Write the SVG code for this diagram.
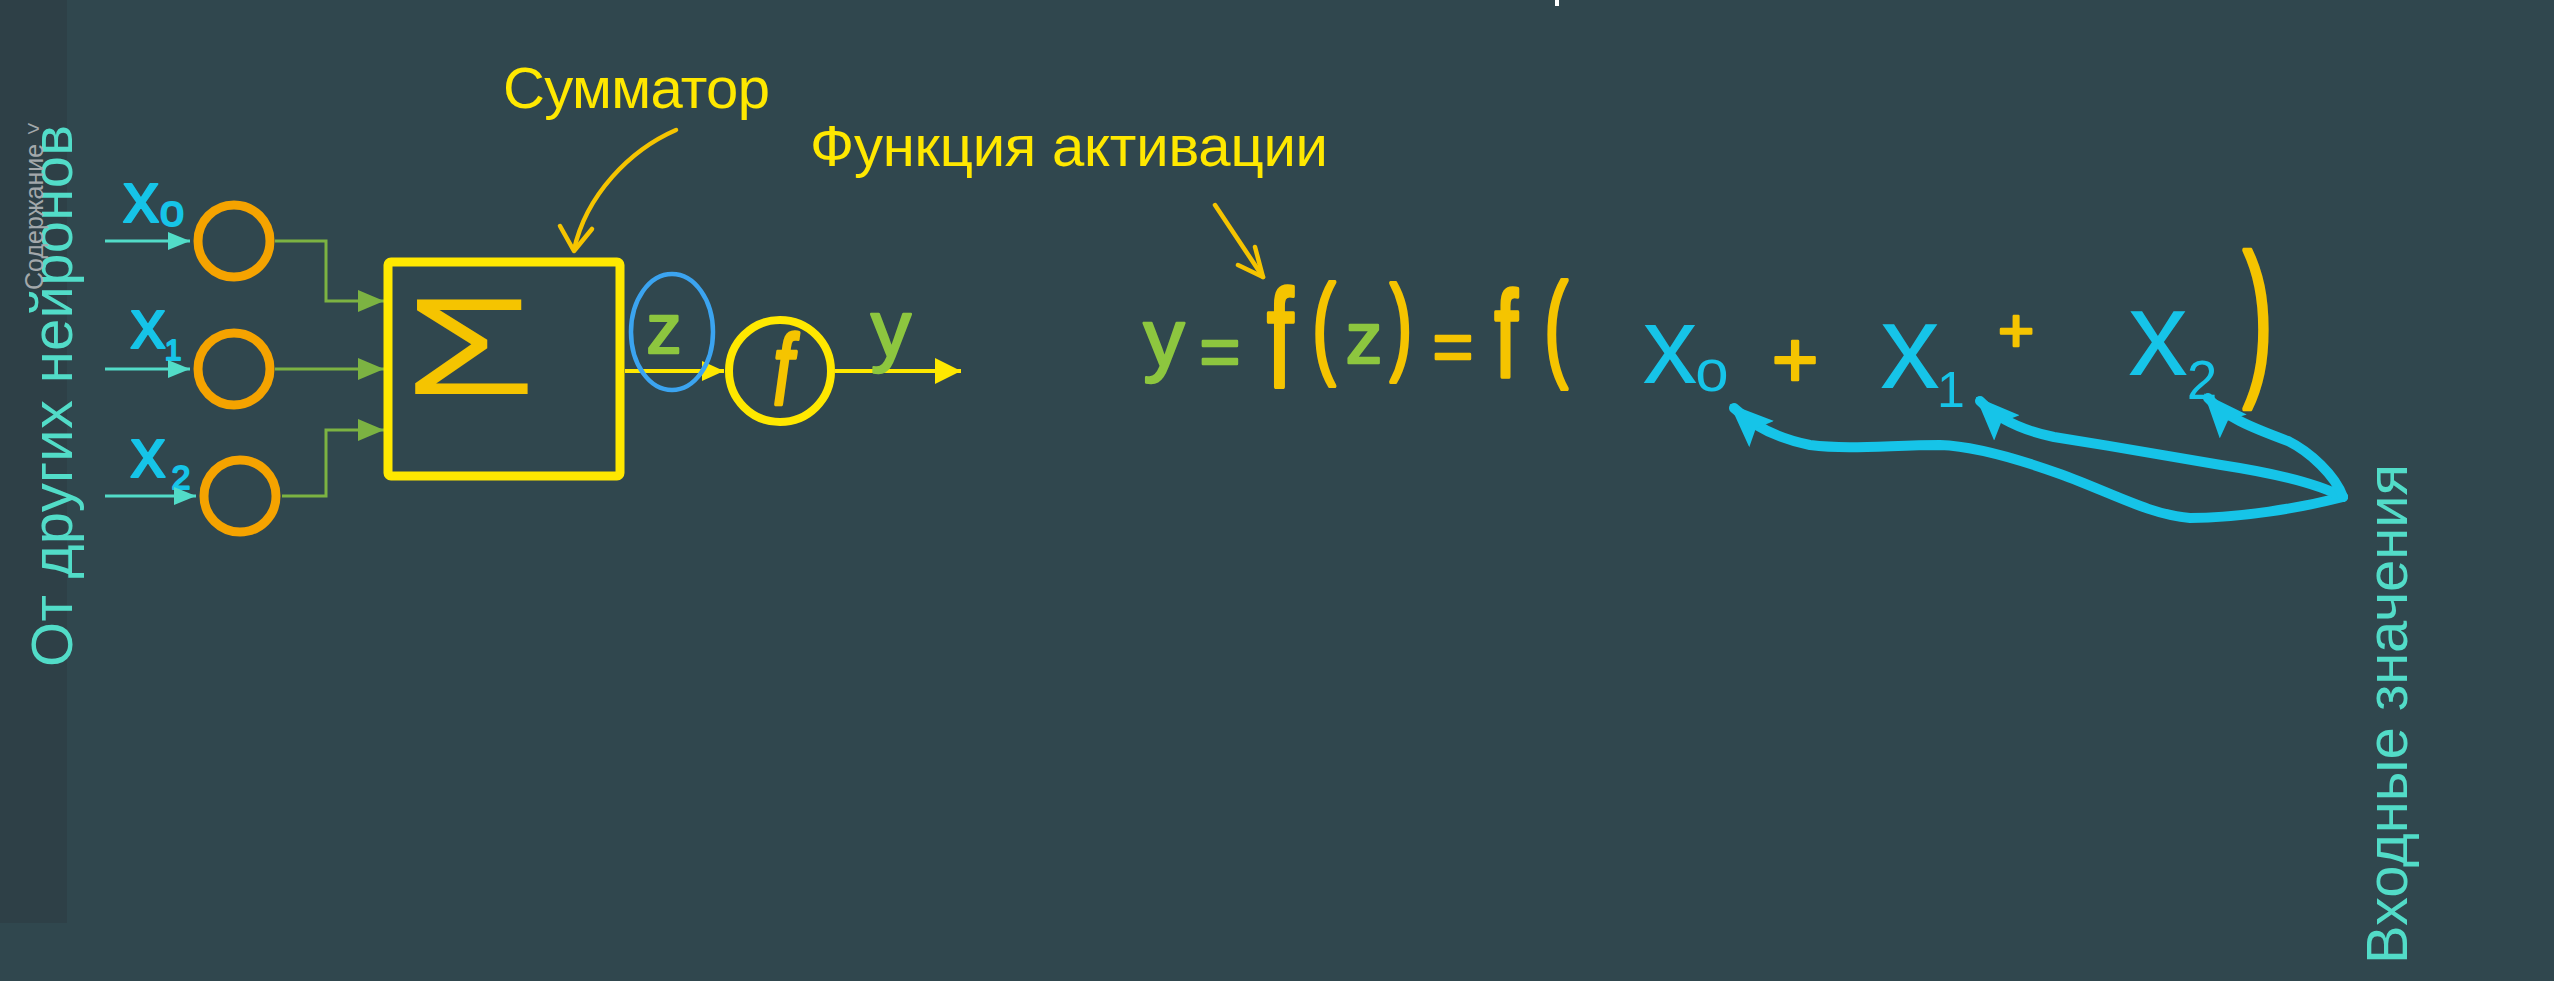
<svg xmlns="http://www.w3.org/2000/svg" width="2554" height="981" viewBox="0 0 2554 981">
<style>
.lbl{font-family:"Liberation Sans",Arial,sans-serif;font-size:58px}
.yel{fill:#ffe800}
.teal{fill:#52dcc8}
.hw{font-family:"Liberation Sans",Arial,sans-serif;text-anchor:middle}
.cy{fill:#16c4e8}
.or{fill:#f5c400}
.gr{fill:#8dc63f}
.bold{stroke-width:2;stroke-linejoin:round}
.thick{stroke-width:2.5;stroke-linejoin:round}
.cy.bold{stroke:#16c4e8}
.or.thick{stroke:#f5c400}
.gr.thick{stroke:#8dc63f}
.tline{stroke:#52dcc8;stroke-width:3;fill:none}
.gline{stroke:#7cb342;stroke-width:3;fill:none}
.yline{stroke:#ffe800;stroke-width:4;fill:none}
.barrow{stroke:#16c4e8;stroke-width:10;fill:none;stroke-linecap:round;stroke-linejoin:round}
.oarrow{stroke:#f5c400;stroke-width:4.5;fill:none;stroke-linecap:round;stroke-linejoin:round}
</style>
<defs>
<marker id="mTeal" markerUnits="userSpaceOnUse" markerWidth="24" markerHeight="20" refX="22" refY="9" orient="auto"><path d="M0,0 L22,9 L0,18 z" fill="#52dcc8"/></marker>
<marker id="mGreen" markerUnits="userSpaceOnUse" markerWidth="28" markerHeight="24" refX="26" refY="11" orient="auto"><path d="M0,0 L26,11 L0,22 z" fill="#7cb342"/></marker>
<marker id="mYel" markerUnits="userSpaceOnUse" markerWidth="24" markerHeight="22" refX="22" refY="10" orient="auto"><path d="M0,0 L22,10 L0,20 z" fill="#ffe800"/></marker>
<marker id="mYelBig" markerUnits="userSpaceOnUse" markerWidth="28" markerHeight="28" refX="26" refY="13" orient="auto"><path d="M0,0 L26,13 L0,26 z" fill="#ffe800"/></marker>
<marker id="mCyan" markerUnits="userSpaceOnUse" markerWidth="46" markerHeight="40" refX="38" refY="18" orient="auto"><path d="M0,0 L44,18 L0,36 L8,18 z" fill="#16c4e8"/></marker>
</defs>
<rect x="0" y="0" width="2554" height="981" fill="#30474e"/>
<rect x="0" y="0" width="67" height="923" fill="#2e4047"/>
<rect x="1555" y="0" width="4" height="6" fill="#ffffff"/>

<g id="label-left" class="lbl teal"><text transform="translate(72,667) rotate(-90)" textLength="542" lengthAdjust="spacing">От других нейронов</text></g>
<g id="label-toc"><text transform="translate(43,290) rotate(-90)" font-family="Liberation Sans,Arial,sans-serif" font-size="25" fill="#a3a8ab">Содержание</text><text x="27" y="136" font-family="Liberation Sans,Arial,sans-serif" font-size="22" fill="#a3a8ab">&gt;</text></g>
<g id="label-right" class="lbl teal"><text transform="translate(2407,964) rotate(-90)" textLength="500" lengthAdjust="spacing">Входные значения</text></g>
<g id="label-summator" class="lbl yel"><text x="503" y="108" textLength="267" lengthAdjust="spacing">Сумматор</text></g>
<g id="label-activation" class="lbl yel"><text x="810" y="166" textLength="518" lengthAdjust="spacing">Функция  активации</text></g>

<g id="input-labels">
<text class="hw cy bold" x="141" y="222" font-size="72">x</text><text class="hw cy bold" x="172" y="226" font-size="44">o</text>
<text class="hw cy bold" x="148" y="348" font-size="70">x</text><text class="hw cy bold" x="173" y="360" font-size="30">1</text>
<text class="hw cy bold" x="148" y="477" font-size="70">x</text><text class="hw cy bold" x="181" y="489" font-size="34">2</text>
</g>

<g id="connectors">
<path class="tline" d="M105 241 H190" marker-end="url(#mTeal)"/>
<path class="tline" d="M105 369 H190" marker-end="url(#mTeal)"/>
<path class="tline" d="M105 496 H196" marker-end="url(#mTeal)"/>
<path class="gline" d="M275 241 H326 V301 H384" marker-end="url(#mGreen)"/>
<path class="gline" d="M275 369 H384" marker-end="url(#mGreen)"/>
<path class="gline" d="M282 496 H326 V430 H384" marker-end="url(#mGreen)"/>
<path class="yline" d="M625 371 H724" marker-end="url(#mYel)"/>
<path class="yline" d="M835 371 H961" marker-end="url(#mYelBig)"/>
<path class="oarrow" d="M676 130 C630 150 586 195 574 250"/>
<path class="oarrow" d="M560 226 L574 251 L592 229"/>
<path class="oarrow" d="M1215 205 L1263 277"/>
<path class="oarrow" d="M1238 265 L1263 277 L1255 247"/>
<path class="barrow" d="M2343 497 C2300 508 2240 518 2190 518 C2150 515 2110 492 2060 474 C2010 456 1970 446 1940 445 C1890 445 1850 450 1810 445 C1775 438 1752 425 1734 408" marker-end="url(#mCyan)"/>
<path class="barrow" d="M2343 497 C2320 485 2280 474 2221 465 C2170 456 2110 446 2054 437 C2020 430 1996 417 1980 401" marker-end="url(#mCyan)"/>
<path class="barrow" d="M2343 497 C2335 475 2310 452 2288 441 C2250 427 2224 416 2208 398" marker-end="url(#mCyan)"/>
</g>

<g id="neuron-x0"><circle cx="234" cy="241" r="36" fill="none" stroke="#f5a300" stroke-width="9"/></g>
<g id="neuron-x1"><circle cx="234" cy="369" r="36" fill="none" stroke="#f5a300" stroke-width="9"/></g>
<g id="neuron-x2"><circle cx="240" cy="496" r="36" fill="none" stroke="#f5a300" stroke-width="9"/></g>

<g id="summator">
<rect x="388" y="262" width="232" height="214" rx="3" fill="none" stroke="#ffe800" stroke-width="9"/>
<text transform="translate(404,394) scale(1,1.3)" font-family="Liberation Sans,Arial,sans-serif" font-size="106" fill="#f5c400" textLength="132" lengthAdjust="spacingAndGlyphs">Σ</text>
</g>

<g id="z-mark">
<ellipse cx="672" cy="332" rx="41" ry="58" fill="none" stroke="#3ba4f0" stroke-width="4.5"/>
<text class="hw gr thick" x="664" y="353" font-size="70">z</text>
</g>

<g id="activation">
<circle cx="780" cy="371" r="51" fill="none" stroke="#ffe800" stroke-width="8"/>
<text class="hw or thick" transform="translate(783,405) scale(1,1.4)" font-size="72" font-style="italic">f</text>
</g>

<g id="output-y"><text class="hw gr thick" x="891" y="356" font-size="80">y</text></g>

<g id="formula">
<text class="hw gr thick" x="1164" y="366" font-size="82">y</text>
<text class="hw gr thick" x="1220" y="376" font-size="70">=</text>
<text class="hw or thick" transform="translate(1280,387) scale(1,1.45)" font-size="96">f</text>
<text class="hw or thick" transform="translate(1324,363) scale(1,1.6)" font-size="70">(</text>
<text class="hw gr thick" x="1364" y="363" font-size="73">z</text>
<text class="hw or thick" transform="translate(1401,360) scale(1,1.6)" font-size="66">)</text>
<text class="hw or thick" x="1453" y="371" font-size="70">=</text>
<text class="hw or thick" transform="translate(1506,377) scale(1,1.45)" font-size="85">f</text>
<text class="hw or thick" transform="translate(1556,365) scale(1,1.65)" font-size="71">(</text>
<text class="hw cy" x="1670" y="383" font-size="110">x</text>
<text class="hw cy" x="1712" y="391" font-size="60">o</text>
<text class="hw or thick" x="1795" y="387" font-size="80">+</text>
<text class="hw cy" x="1910" y="388" font-size="120">x</text>
<text class="hw cy" x="1951" y="407" font-size="50">1</text>
<text class="hw or thick" x="2016" y="351" font-size="62">+</text>
<text class="hw cy" x="2158" y="375" font-size="120">x</text>
<text class="hw cy" x="2202" y="399" font-size="55">2</text>
<text class="hw or thick" transform="translate(2258,374) scale(1,1.9)" font-size="90">)</text>
</g>
</svg>
